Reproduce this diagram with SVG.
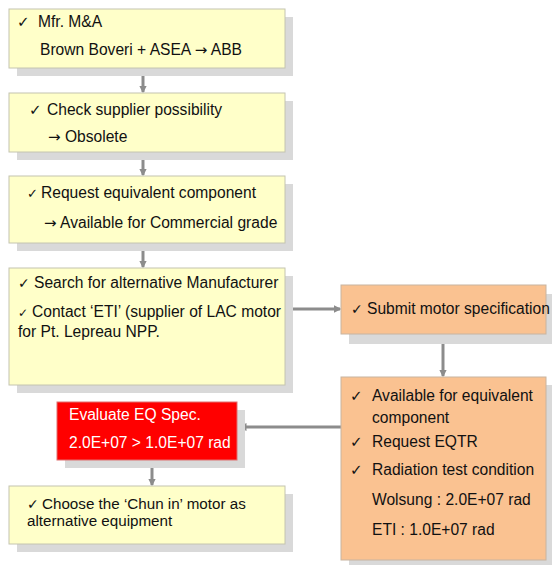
<svg xmlns="http://www.w3.org/2000/svg" width="552" height="565" viewBox="0 0 552 565">
<defs>
<style>
text{font-family:"Liberation Sans",Arial,sans-serif;font-size:15.6px;fill:#111}
.k{font-family:"DejaVu Sans",sans-serif;font-size:15px}
.a{font-family:"DejaVu Sans",sans-serif;font-size:15px}
.sh{fill:#d9d9d9}
.y{fill:#ffffc9;stroke:#c4c4b0;stroke-width:1}
.o{fill:#fac291;stroke:#c8b4a0;stroke-width:1}
.r{fill:#ff0000;stroke:#e07070;stroke-width:1}
.w{fill:#fff}
.c{stroke:#8c8c8c;stroke-width:3;fill:none;marker-end:url(#ah)}
</style>
<marker id="ah" viewBox="0 0 6 6" refX="5" refY="3" markerWidth="2.6" markerHeight="2.6" orient="auto" markerUnits="strokeWidth">
<path d="M0,0 L6,3 L0,6 Z" fill="#8c8c8c"/>
</marker>
</defs>
<rect width="552" height="565" fill="#fff"/>

<g id="connectors">
<line class="c" x1="143" y1="68" x2="143" y2="92"/>
<line class="c" x1="143" y1="152" x2="143" y2="175"/>
<line class="c" x1="143" y1="243" x2="143" y2="267"/>
<line class="c" x1="285" y1="309" x2="340" y2="309"/>
<line class="c" x1="443" y1="334" x2="443" y2="376"/>
<line class="c" x1="341" y1="427" x2="240" y2="427"/>
<line class="c" x1="152" y1="460" x2="152" y2="485"/>
</g>

<g id="n1">
<rect class="sh" x="17" y="17" width="276" height="59"/>
<rect class="y" x="9" y="9" width="276" height="59"/>
<text class="k" x="17" y="27">✓</text>
<text x="38" y="27">Mfr. M&amp;A</text>
<text x="40" y="55">Brown Boveri + ASEA <tspan class="a">→</tspan> ABB</text>
</g>

<g id="n2">
<rect class="sh" x="17" y="101" width="276" height="59"/>
<rect class="y" x="9" y="93" width="276" height="59"/>
<text class="k" x="29" y="115">✓</text>
<text x="47" y="115">Check supplier possibility</text>
<text x="48" y="142"><tspan class="a">→</tspan> Obsolete</text>
</g>

<g id="n3">
<rect class="sh" x="17" y="184" width="276" height="67"/>
<rect class="y" x="9" y="176" width="276" height="67"/>
<text class="k" x="27" y="198" style="font-size:13px">✓</text>
<text x="41" y="198">Request equivalent component</text>
<text x="44" y="228"><tspan class="a">→</tspan> Available for Commercial grade</text>
</g>

<g id="n4">
<rect class="sh" x="17" y="276" width="276" height="117"/>
<rect class="y" x="9" y="268" width="276" height="117"/>
<text class="k" x="18" y="288" style="font-size:14px">✓</text>
<text x="34" y="288">Search for alternative Manufacturer</text>
<text class="k" x="18" y="317" style="font-size:12px">✓</text>
<text x="32" y="317">Contact ‘ETI’ (supplier of LAC motor</text>
<text x="18" y="337">for Pt. Lepreau NPP.</text>
</g>

<g id="n5">
<rect class="sh" x="349" y="294" width="205" height="50"/>
<rect class="o" x="341" y="285" width="205" height="49"/>
<text class="k" x="351" y="314" style="font-size:14px">✓</text>
<text x="367" y="314">Submit motor specification</text>
</g>

<g id="n6">
<rect class="sh" x="349" y="385" width="205" height="183"/>
<rect class="o" x="341" y="377" width="205" height="183"/>
<text class="k" x="350" y="401">✓</text>
<text x="372" y="401">Available for equivalent</text>
<text x="372" y="423">component</text>
<text class="k" x="350" y="447">✓</text>
<text x="372" y="447">Request EQTR</text>
<text class="k" x="350" y="475">✓</text>
<text x="372" y="475">Radiation test condition</text>
<text x="372" y="505">Wolsung : 2.0E+07 rad</text>
<text x="372" y="535">ETI : 1.0E+07 rad</text>
</g>

<g id="n7">
<rect class="sh" x="65" y="410" width="180" height="58"/>
<rect class="r" x="57" y="402" width="180" height="58"/>
<text class="w" x="69" y="420">Evaluate EQ Spec.</text>
<text class="w" x="69" y="448">2.0E+07 &gt; 1.0E+07 rad</text>
</g>

<g id="n8">
<rect class="sh" x="17" y="494" width="276" height="58"/>
<rect class="y" x="9" y="486" width="276" height="58"/>
<text class="k" x="27" y="509" style="font-size:14px">✓</text>
<text x="42" y="509" style="font-size:15.2px">Choose the ‘Chun in’ motor as</text>
<text x="27" y="526" style="font-size:15.2px">alternative equipment</text>
</g>
</svg>
